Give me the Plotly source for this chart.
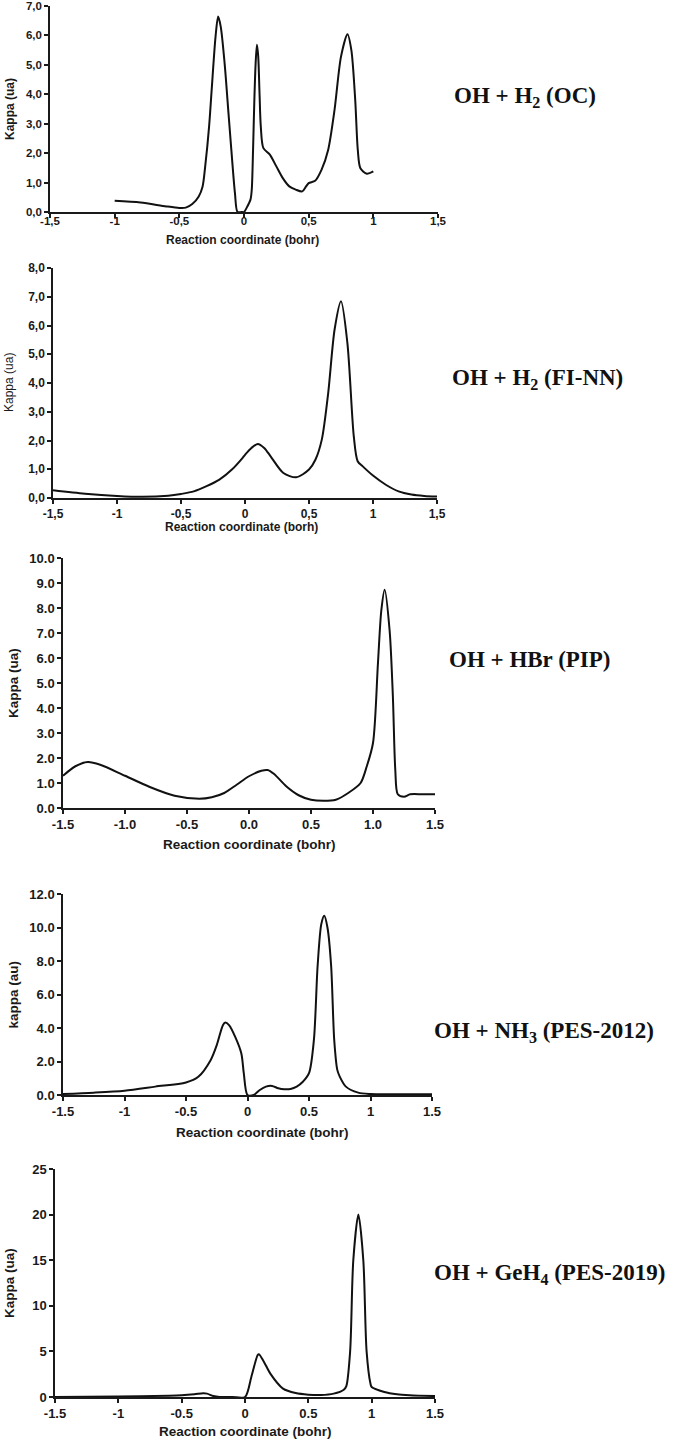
import plotly.graph_objects as go

# ---- data ----
# OH + H2 (OC)
x_oc = [-1.0, -0.8, -0.6, -0.5, -0.45, -0.4, -0.35, -0.32, -0.3, -0.27, -0.25, -0.22, -0.2, -0.18,
        -0.15, -0.12, -0.1, -0.07, -0.05, -0.02, 0.0, 0.02, 0.05, 0.06, 0.07, 0.08, 0.09, 0.1, 0.11,
        0.12, 0.13, 0.15, 0.2, 0.25, 0.3, 0.35, 0.4, 0.45, 0.48, 0.5, 0.55, 0.6, 0.65, 0.7, 0.75,
        0.8, 0.83, 0.86, 0.88, 0.9, 0.95, 1.0]
k_oc = [0.38, 0.32, 0.19, 0.14, 0.15, 0.27, 0.53, 0.87, 1.55, 2.9, 4.15, 5.96, 6.64, 6.3,
        5.06, 3.36, 2.23, 0.64, 0.0, 0.0, 0.0, 0.14, 0.42, 0.76, 2.1, 3.8, 5.06, 5.68, 5.28,
        4.04, 2.9, 2.17, 1.95, 1.55, 1.15, 0.87, 0.76, 0.70, 0.87, 0.98, 1.06, 1.44, 2.1, 3.47, 5.28,
        6.04, 5.5, 3.8, 2.1, 1.49, 1.3, 1.38]

# OH + H2 (FI-NN)
x_fi = [-1.5, -1.25, -1.0, -0.8, -0.6, -0.5, -0.4, -0.3, -0.2, -0.1, -0.02, 0.0, 0.05, 0.1, 0.15,
        0.2, 0.3, 0.4, 0.5, 0.55, 0.6, 0.65, 0.7, 0.75, 0.8, 0.85, 0.88, 0.92, 1.0, 1.1, 1.2, 1.3,
        1.4, 1.5]
k_fi = [0.27, 0.15, 0.07, 0.04, 0.08, 0.14, 0.23, 0.41, 0.64, 1.0, 1.39, 1.5, 1.74, 1.88, 1.74,
        1.45, 0.87, 0.72, 0.99, 1.33, 2.03, 3.65, 5.86, 6.84, 5.39, 2.14, 1.28, 1.1, 0.78, 0.46, 0.23, 0.12,
        0.07, 0.05]

# OH + HBr (PIP)
x_hbr = [-1.5, -1.4, -1.3, -1.2, -1.0, -0.8, -0.6, -0.4, -0.3, -0.2, -0.1, 0.0, 0.1, 0.15, 0.2,
         0.3, 0.4, 0.5, 0.6, 0.7, 0.8, 0.9, 0.95, 1.0, 1.04, 1.067, 1.094, 1.134, 1.16, 1.18, 1.2,
         1.25, 1.3, 1.4, 1.5]
k_hbr = [1.29, 1.67, 1.84, 1.73, 1.29, 0.84, 0.49, 0.37, 0.43, 0.6, 0.93, 1.27, 1.49, 1.52, 1.37,
         0.87, 0.51, 0.33, 0.29, 0.33, 0.6, 1.0, 1.67, 2.6, 5.8, 7.9, 8.73, 7.1, 4.5, 1.5, 0.55,
         0.45, 0.55, 0.55, 0.55]

# OH + NH3 (PES-2012)
x_nh3 = [-1.5, -1.25, -1.0, -0.75, -0.5, -0.4, -0.3, -0.25, -0.2, -0.18, -0.15, -0.1, -0.05, -0.03,
         0.0, 0.05, 0.1, 0.15, 0.2, 0.25, 0.3, 0.35, 0.4, 0.45, 0.5, 0.54, 0.57, 0.6, 0.624, 0.65,
         0.68, 0.705, 0.73, 0.75, 0.8, 0.9, 1.0, 1.25, 1.5]
k_nh3 = [0.06, 0.14, 0.26, 0.5, 0.75, 1.09, 2.08, 2.98, 4.17, 4.33, 4.17, 3.47, 2.48, 1.29,
         0.0, 0.0, 0.3, 0.5, 0.54, 0.4, 0.34, 0.36, 0.5, 0.79, 1.3, 3.3, 7.7, 10.2, 10.7, 10.0,
         7.7, 3.3, 1.5, 1.1, 0.5, 0.14, 0.06, 0.05, 0.05]

# OH + GeH4 (PES-2019)
x_ge = [-1.5, -1.0, -0.6, -0.5, -0.4, -0.33, -0.3, -0.25, -0.2, -0.1, 0.0, 0.05, 0.1, 0.11, 0.15,
        0.2, 0.3, 0.4, 0.5, 0.6, 0.7, 0.78, 0.8, 0.83, 0.855, 0.895, 0.934, 0.96, 0.99, 1.0, 1.1,
        1.2, 1.3, 1.5]
k_ge = [0.0, 0.05, 0.15, 0.2, 0.3, 0.4, 0.37, 0.1, 0.0, 0.0, 0.0, 2.2, 4.6, 4.7, 3.85,
        2.56, 0.92, 0.44, 0.26, 0.22, 0.37, 0.8, 1.2, 5.0, 15.0, 20.0, 15.0, 5.0, 1.5, 1.1, 0.55,
        0.3, 0.2, 0.1]

# tick labels
xt_vals = [-1.5, -1.0, -0.5, 0.0, 0.5, 1.0, 1.5]
xt_comma = ["-1,5", "-1", "-0,5", "0", "0,5", "1", "1,5"]
xt_dot1 = ["-1.5", "-1.0", "-0.5", "0.0", "0.5", "1.0", "1.5"]
xt_dot = ["-1.5", "-1", "-0.5", "0", "0.5", "1", "1.5"]
yt_oc = [0, 1, 2, 3, 4, 5, 6, 7]
yt_oc_txt = ["0,0", "1,0", "2,0", "3,0", "4,0", "5,0", "6,0", "7,0"]
yt_fi = [0, 1, 2, 3, 4, 5, 6, 7, 8]
yt_fi_txt = ["0,0", "1,0", "2,0", "3,0", "4,0", "5,0", "6,0", "7,0", "8,0"]
yt_hbr = [0, 1, 2, 3, 4, 5, 6, 7, 8, 9, 10]
yt_hbr_txt = ["0.0", "1.0", "2.0", "3.0", "4.0", "5.0", "6.0", "7.0", "8.0", "9.0", "10.0"]
yt_nh3 = [0, 2, 4, 6, 8, 10, 12]
yt_nh3_txt = ["0.0", "2.0", "4.0", "6.0", "8.0", "10.0", "12.0"]
yt_ge = [0, 5, 10, 15, 20, 25]
yt_ge_txt = ["0", "5", "10", "15", "20", "25"]

W, H = 685, 1440

# per panel: data, pixel box (left, right, top, bottom), ticks, titles
panels = [
    dict(x=x_oc, y=k_oc, box=(50, 438, 6, 212), xt=xt_comma, yv=yt_oc, yt=yt_oc_txt,
         fs=11.5, tfs=12, ytitle="Kappa (ua)", yw="bold", ytx=10, xtitle="Reaction coordinate (bohr)",
         xtx=243, xty=240, xstand=-7, label="OH + H<sub>2</sub> (OC)", lx=525, ly=97),
    dict(x=x_fi, y=k_fi, box=(53, 437, 268, 498), xt=xt_comma, yv=yt_fi, yt=yt_fi_txt,
         fs=12, tfs=12, ytitle="Kappa (ua)", yw="normal", ytx=9, xtitle="Reaction coordinate (borh)",
         xtx=241, xty=527, xstand=0, label="OH + H<sub>2</sub> (FI-NN)", lx=537, ly=379),
    dict(x=x_hbr, y=k_hbr, box=(63, 435, 558, 808), xt=xt_dot1, yv=yt_hbr, yt=yt_hbr_txt,
         fs=13, tfs=13.5, ytitle="Kappa (ua)", yw="bold", ytx=13, xtitle="Reaction coordinate (bohr)",
         xtx=249, xty=844, xstand=0, label="OH + HBr (PIP)", lx=530, ly=660),
    dict(x=x_nh3, y=k_nh3, box=(63, 432, 894, 1095), xt=xt_dot, yv=yt_nh3, yt=yt_nh3_txt,
         fs=13, tfs=13.5, ytitle="kappa (au)", yw="bold", ytx=13, xtitle="Reaction coordinate (bohr)",
         xtx=262, xty=1132, xstand=0, label="OH + NH<sub>3</sub> (PES-2012)", lx=544, ly=1032),
    dict(x=x_ge, y=k_ge, box=(55, 435, 1169, 1397), xt=xt_dot, yv=yt_ge, yt=yt_ge_txt,
         fs=13, tfs=13.5, ytitle="Kappa (ua)", yw="bold", ytx=9, xtitle="Reaction coordinate (bohr)",
         xtx=245, xty=1431, xstand=0, label="OH + GeH<sub>4</sub> (PES-2019)", lx=549, ly=1274),
]

fig = go.Figure()
annotations = []
layout = {}
sans = "Liberation Sans, Arial, sans-serif"
serif = "Liberation Serif, Times New Roman, serif"

for i, p in enumerate(panels):
    n = "" if i == 0 else str(i + 1)
    l, r, t, b = p["box"]
    fig.add_trace(go.Scatter(
        x=p["x"], y=p["y"], mode="lines",
        line=dict(color="#111111", width=2, shape="spline", smoothing=0.8),
        xaxis="x" + n, yaxis="y" + n, showlegend=False, cliponaxis=True,
    ))
    axis_common = dict(
        showline=True, linecolor="#1a1a1a", linewidth=1.5, showgrid=False, zeroline=False,
        ticks="outside", ticklen=4, tickwidth=1.5, tickcolor="#1a1a1a",
        tickfont=dict(family=sans, size=p["fs"], color="#1a1a1a", weight="bold"),
        tickmode="array", automargin=False, fixedrange=True,
    )
    layout["xaxis" + n] = dict(
        axis_common, domain=[l / W, r / W], range=[-1.5, 1.5],
        tickvals=xt_vals, ticktext=p["xt"], anchor="y" + n,
        ticklabelstandoff=p["xstand"],
    )
    layout["yaxis" + n] = dict(
        axis_common, domain=[1 - b / H, 1 - t / H], range=[0, p["yv"][-1]],
        tickvals=p["yv"], ticktext=p["yt"], anchor="x" + n,
    )
    annotations.append(dict(
        text=p["ytitle"], x=p["ytx"] / W, y=1 - ((t + b) / 2) / H, xref="paper", yref="paper",
        textangle=-90, showarrow=False, xanchor="center", yanchor="middle",
        font=dict(family=sans, size=p["tfs"], color="#1a1a1a", weight=p["yw"]),
    ))
    annotations.append(dict(
        text=p["xtitle"], x=p["xtx"] / W, y=1 - p["xty"] / H, xref="paper", yref="paper",
        showarrow=False, xanchor="center", yanchor="middle",
        font=dict(family=sans, size=p["tfs"], color="#1a1a1a", weight="bold"),
    ))
    annotations.append(dict(
        text=p["label"], x=p["lx"] / W, y=1 - p["ly"] / H, xref="paper", yref="paper",
        showarrow=False, xanchor="center", yanchor="middle",
        font=dict(family=serif, size=23, color="#111111", weight="bold"),
    ))

fig.update_layout(
    width=W, height=H,
    margin=dict(l=0, r=0, t=0, b=0),
    paper_bgcolor="white", plot_bgcolor="white",
    annotations=annotations,
    **layout,
)

# drop the browser's default 8px body margin so the page lines up with the window
fig.write_html("out.html", config={"displayModeBar": False},
               post_script="document.body.style.margin='0';")
